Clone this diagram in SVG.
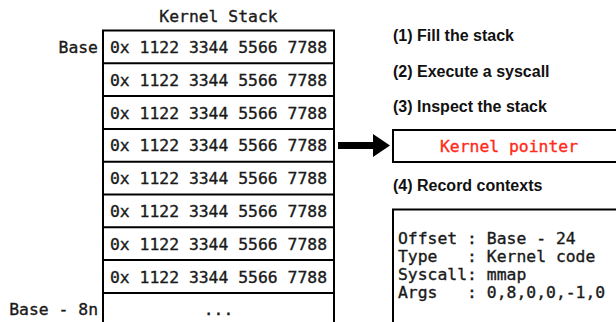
<svg xmlns="http://www.w3.org/2000/svg" width="616" height="322" viewBox="0 0 616 322">
<style>
.mono{font-family:"DejaVu Sans Mono","Liberation Mono",monospace;font-size:16.4px;fill:#1a1a1a;stroke:#1a1a1a;stroke-width:0.35;white-space:pre}
.c{text-anchor:middle}
.r{text-anchor:end}
.step{font-family:"Liberation Sans",Arial,sans-serif;font-weight:bold;font-size:16px;fill:#111}
.box{fill:#fff;stroke:#000;stroke-width:2}
.red{fill:#ff2a1a;stroke:#ff2a1a}
</style>
<rect width="616" height="322" fill="#fff"/>
<text class="mono c" x="218.5" y="22">Kernel Stack</text>
<g id="stack">
<rect class="box" x="103" y="30.5" width="231" height="300"/>
<g stroke="#000" stroke-width="2">
<line x1="103" y1="63.3" x2="334" y2="63.3"/>
<line x1="103" y1="96.1" x2="334" y2="96.1"/>
<line x1="103" y1="128.9" x2="334" y2="128.9"/>
<line x1="103" y1="161.7" x2="334" y2="161.7"/>
<line x1="103" y1="194.5" x2="334" y2="194.5"/>
<line x1="103" y1="227.3" x2="334" y2="227.3"/>
<line x1="103" y1="260.1" x2="334" y2="260.1"/>
<line x1="103" y1="292.9" x2="334" y2="292.9"/>
</g>
<text class="mono c" x="218.5" y="53">0x 1122 3344 5566 7788</text>
<text class="mono c" x="218.5" y="85.8">0x 1122 3344 5566 7788</text>
<text class="mono c" x="218.5" y="118.6">0x 1122 3344 5566 7788</text>
<text class="mono c" x="218.5" y="151.4">0x 1122 3344 5566 7788</text>
<text class="mono c" x="218.5" y="184.2">0x 1122 3344 5566 7788</text>
<text class="mono c" x="218.5" y="217">0x 1122 3344 5566 7788</text>
<text class="mono c" x="218.5" y="249.8">0x 1122 3344 5566 7788</text>
<text class="mono c" x="218.5" y="282.6">0x 1122 3344 5566 7788</text>
<text class="mono c" x="218.5" y="315">...</text>
</g>
<g id="labels">
<text class="mono r" x="98" y="53">Base</text>
<text class="mono r" x="98" y="315">Base - 8n</text>
</g>
<g id="steps">
<text class="step" x="393" y="41">(1) Fill the stack</text>
<text class="step" x="393" y="76.5">(2) Execute a syscall</text>
<text class="step" x="393" y="111.5">(3) Inspect the stack</text>
<text class="step" x="393" y="191">(4) Record contexts</text>
</g>
<g id="connectors">
<polygon points="338,142 373,142 373,134 390,145.5 373,157 373,149 338,149" fill="#000"/>
</g>
<g id="kernel-pointer">
<rect class="box" x="393" y="130" width="232" height="32"/>
<text class="mono c red" x="509" y="151.5">Kernel pointer</text>
</g>
<g id="contexts">
<rect class="box" x="393" y="209.5" width="232" height="130"/>
<text class="mono" x="398" y="244.3" xml:space="preserve">Offset : Base - 24</text>
<text class="mono" x="398" y="262.3" xml:space="preserve">Type   : Kernel code</text>
<text class="mono" x="398" y="280.3" xml:space="preserve">Syscall: mmap</text>
<text class="mono" x="398" y="298.3" xml:space="preserve">Args   : 0,8,0,0,-1,0</text>
</g>
</svg>
